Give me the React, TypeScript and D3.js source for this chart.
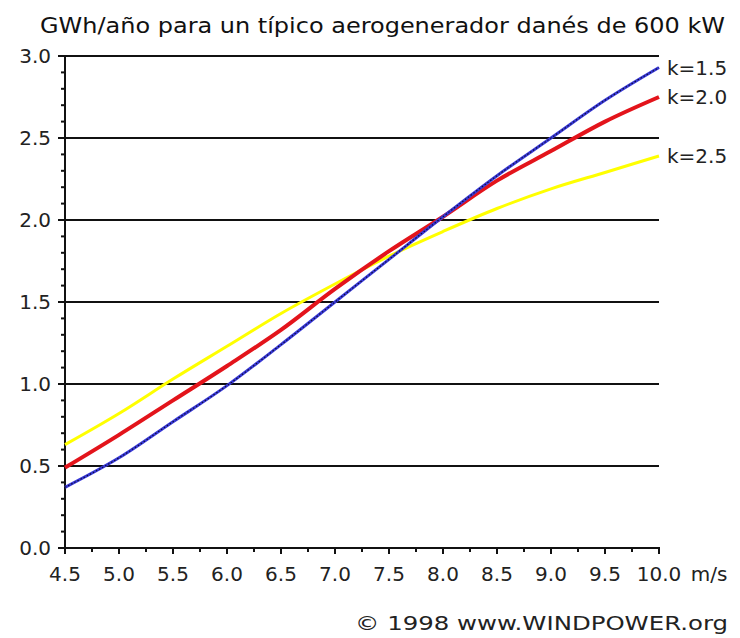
import React from "react";
import * as d3 from "d3";

const speeds = [4.5, 5.0, 5.5, 6.0, 6.5, 7.0, 7.5, 8.0, 8.5, 9.0, 9.5, 10.0];
const k15 = [0.37, 0.55, 0.77, 0.99, 1.24, 1.5, 1.76, 2.02, 2.27, 2.5, 2.73, 2.93];
const k20 = [0.49, 0.69, 0.9, 1.11, 1.33, 1.58, 1.81, 2.02, 2.24, 2.42, 2.6, 2.75];
const k25 = [0.63, 0.82, 1.03, 1.23, 1.43, 1.61, 1.78, 1.93, 2.07, 2.19, 2.29, 2.39];
const seriesLabels = ["k=1.5", "k=2.0", "k=2.5"];
const xTicks = [4.5, 5.0, 5.5, 6.0, 6.5, 7.0, 7.5, 8.0, 8.5, 9.0, 9.5, 10.0];
const yTicks = [0, 0.5, 1.0, 1.5, 2.0, 2.5, 3.0];
const title = "GWh/año para un típico aerogenerador danés de 600 kW";
const xUnit = "m/s";
const footer = "© 1998 www.WINDPOWER.org";

const W = 740;
const H = 638;
const left = 65;
const right = 659;
const top = 56;
const bottom = 548;
const font = "'DejaVu Sans', Verdana, sans-serif";

export default function App() {
  const x = d3.scaleLinear().domain([4.5, 10]).range([left, right]);
  const y = d3.scaleLinear().domain([0, 3]).range([bottom, top]);
  const line = d3
    .line<[number, number]>()
    .x((d) => x(d[0]))
    .y((d) => y(d[1]))
    .curve(d3.curveMonotoneX);
  const mk = (vals: number[]) => line(speeds.map((s, i) => [s, vals[i]] as [number, number])) || "";

  const yMinor = d3.range(0, 31).map((i) => i / 10);
  const xMinor = d3.range(0, 23).map((i) => 4.5 + i * 0.25);

  const series = [
    { vals: k25, color: "#ffff00", width: 3, label: seriesLabels[2] },
    { vals: k20, color: "#e3141b", width: 4, label: seriesLabels[1] },
    { vals: k15, color: "#3838d8", width: 3, label: seriesLabels[0] },
  ];

  return (
    <svg
      width={W}
      height={H}
      style={{ position: "absolute", left: 0, top: 0, background: "#fff" }}
      fontFamily={font}
    >
      <rect x={0} y={0} width={W} height={H} fill="#fff" />
      <text x={40} y={33} fontSize={21} fill="#111" textLength={685} lengthAdjust="spacingAndGlyphs">
        {title}
      </text>

      {/* gridlines */}
      {yTicks.filter((t) => t > 0).map((t) => (
        <line key={"g" + t} x1={left - 7} x2={right} y1={y(t)} y2={y(t)} stroke="#111" strokeWidth={2} />
      ))}

      {/* y minor ticks */}
      {yMinor.map((t) => (
        <line key={"ym" + t} x1={left - (Math.abs(t * 2 - Math.round(t * 2)) < 1e-6 ? 7 : 4)} x2={left} y1={y(t)} y2={y(t)} stroke="#111" strokeWidth={2} />
      ))}
      {/* x ticks */}
      {xMinor.map((t, i) => (
        <line key={"xm" + i} x1={x(t)} x2={x(t)} y1={bottom} y2={bottom + (i % 2 === 0 ? 6 : 4)} stroke="#111" strokeWidth={2} />
      ))}

      {/* axes */}
      <line x1={left} x2={left} y1={top - 1} y2={bottom + 1} stroke="#111" strokeWidth={2} />
      <line x1={left - 1} x2={right + 1} y1={bottom} y2={bottom} stroke="#111" strokeWidth={2} />

      {/* y labels */}
      {yTicks.map((t) => (
        <text key={"yl" + t} x={51} y={y(t)} dy="0.36em" textAnchor="end" fontSize={20} fill="#222">
          {t.toFixed(1)}
        </text>
      ))}
      {/* x labels */}
      {xTicks.map((t) => (
        <text key={"xl" + t} x={x(t)} y={581} textAnchor="middle" fontSize={20} fill="#222">
          {t.toFixed(1)}
        </text>
      ))}
      <text x={709} y={581} textAnchor="middle" fontSize={20} fill="#222">
        {xUnit}
      </text>

      {/* lines */}
      {series.map((s) => (
        <path key={s.label} d={mk(s.vals)} fill="none" stroke={s.color} strokeWidth={s.width} strokeLinejoin="round" />
      ))}
      <path d={mk(k15)} fill="none" stroke="#000" strokeWidth={1.2} strokeDasharray="1.5,2" opacity={0.75} />

      {/* series labels */}
      {series.map((s) => (
        <text key={"lab" + s.label} x={667} y={y(s.vals[s.vals.length - 1])} dy="0.36em" fontSize={20} fill="#222">
          {s.label}
        </text>
      ))}

      <text x={728} y={630} textAnchor="end" fontSize={20} fill="#222" textLength={373} lengthAdjust="spacingAndGlyphs">
        {footer}
      </text>
    </svg>
  );
}
